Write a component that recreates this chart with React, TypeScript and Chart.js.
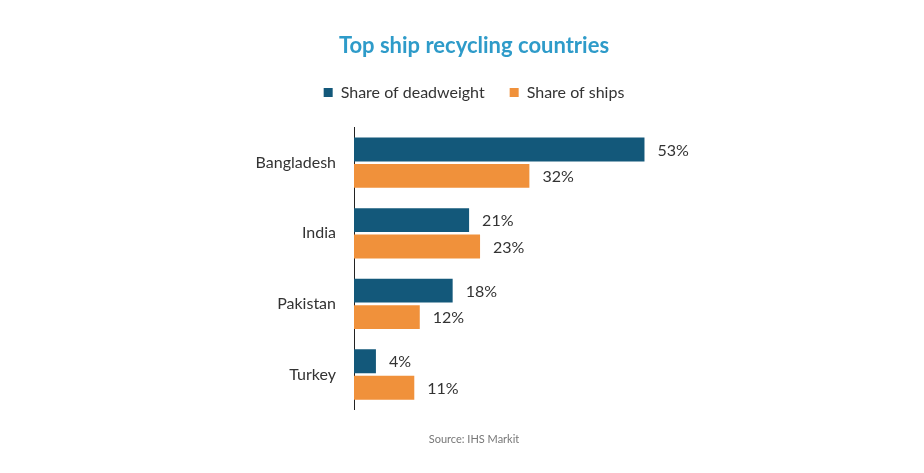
import React, { useRef, useEffect } from 'react';
import { Chart, registerables } from 'chart.js';

Chart.register(...registerables);

const countries = ['Bangladesh', 'India', 'Pakistan', 'Turkey'];
const deadweightShare = [53, 21, 18, 4];
const shipsShare = [32, 23, 12, 11];

const FONT = "Lato, 'Noto Sans', sans-serif";

// draws "53%" etc. to the right of each bar
const valueLabels = {
  id: 'valueLabels',
  afterDatasetsDraw(chart: Chart) {
    const { ctx } = chart;
    ctx.save();
    ctx.font = `16px ${FONT}`;
    ctx.fillStyle = '#333333';
    ctx.textAlign = 'left';
    ctx.textBaseline = 'middle';
    chart.data.datasets.forEach((ds, i) => {
      const meta = chart.getDatasetMeta(i);
      meta.data.forEach((bar: any, j) => {
        ctx.fillText(`${ds.data[j]}%`, bar.x + 13, bar.y + 1);
      });
    });
    ctx.restore();
  }
};

// extra room between legend and plot
const legendSpacer = {
  id: 'legendSpacer',
  beforeInit(chart: any) {
    const fit = chart.legend.fit;
    chart.legend.fit = function () {
      fit.bind(chart.legend)();
      this.height += 17;
    };
  }
};

export default function App() {
  const canvasRef = useRef<HTMLCanvasElement>(null);

  useEffect(() => {
    if (!canvasRef.current) return;
    const chart = new Chart(canvasRef.current, {
      type: 'bar',
      data: {
        labels: countries,
        datasets: [
          {
            label: 'Share of deadweight',
            data: deadweightShare,
            backgroundColor: '#13587a',
            categoryPercentage: 0.75,
            barPercentage: 0.9
          },
          {
            label: 'Share of ships',
            data: shipsShare,
            backgroundColor: '#f0913b',
            categoryPercentage: 0.75,
            barPercentage: 0.9
          }
        ]
      },
      options: {
        indexAxis: 'y',
        responsive: false,
        animation: false,
        layout: { padding: { left: 24, right: 0, top: 0, bottom: 0 } },
        plugins: {
          title: {
            display: true,
            text: 'Top ship recycling countries',
            color: '#2e9bc9',
            font: { family: FONT, size: 22, weight: 'bold' },
            padding: { top: 33, bottom: 0 }
          },
          subtitle: {
            display: true,
            position: 'bottom',
            text: 'Source: IHS Markit',
            color: '#777777',
            font: { family: FONT, size: 11 },
            padding: { top: 23, bottom: 27 }
          },
          legend: {
            labels: {
              boxWidth: 9,
              boxHeight: 9,
              padding: 25,
              color: '#333333',
              font: { family: FONT, size: 16 }
            }
          },
          tooltip: { enabled: false }
        },
        scales: {
          x: { display: false, min: 0, max: 104 },
          y: {
            grid: { display: false, drawTicks: false },
            border: { display: true, color: '#222222', width: 1 },
            ticks: {
              color: '#333333',
              padding: 18,
              font: { family: FONT, size: 16 }
            },
            afterFit(scale: any) {
              scale.width = 330;
            }
          }
        }
      },
      plugins: [valueLabels, legendSpacer]
    });
    return () => chart.destroy();
  }, []);

  return (
    <div style={{ position: 'absolute', left: 0, top: 0, width: 924, height: 473, background: '#fff' }}>
      <canvas ref={canvasRef} width={924} height={473} />
    </div>
  );
}
